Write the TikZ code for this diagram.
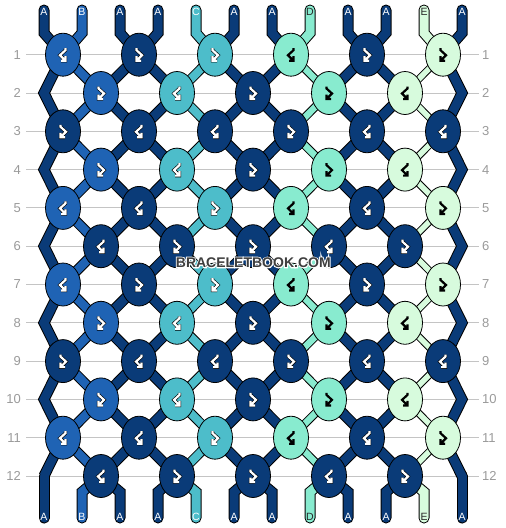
\documentclass[tikz,border=0pt]{standalone}
\usepackage{fontspec}
\setmainfont{Liberation Sans}
\usetikzlibrary{shapes.geometric}
\definecolor{cA}{HTML}{0A3B78}
\definecolor{cB}{HTML}{1F63B4}
\definecolor{cC}{HTML}{4DBDCA}
\definecolor{cD}{HTML}{88EBCF}
\definecolor{cE}{HTML}{D7FBDD}
\definecolor{gridc}{HTML}{C4C4C4}
\definecolor{numc}{HTML}{9A9A9A}
\definecolor{wmc}{HTML}{3E3E3E}
\tikzset{
  knot/.style={ellipse, draw=black, line width=0.8pt, minimum width=35pt, minimum height=43pt, inner sep=0pt},
  strandend/.style={line width=#1pt, line cap=round, line join=miter, miter limit=4},
  zig/.style={line width=#1pt, line cap=butt, line join=miter, miter limit=4},
  rownum/.style={text=numc, font=\fontsize{13}{13}\selectfont, inner sep=0pt},
  endlab/.style={font=\fontsize{10.5}{10.5}\selectfont, inner sep=0pt},
  wm/.style={font=\bfseries\fontsize{14}{14}\selectfont, inner sep=0pt},
}
\newcommand\wmtext{BRACELETBOOK.COM}
\begin{document}
\begin{tikzpicture}[x=1pt,y=-1pt]
\useasboundingbox (0,0) rectangle (506,528);
% grid lines and row numbers
\foreach \r in {1,...,12}{
  \pgfmathsetmacro\yy{54.7+38.3*(\r-1)}
  \coordinate (GL\r) at (26,\yy);
  \coordinate (GR\r) at (479,\yy);
  \draw[gridc, line width=1pt] (GL\r) -- (GR\r);
  \node[rownum, anchor=east] (LN\r) at (21,\yy) {\r};
  \node[rownum, anchor=west] (RN\r) at (482,\yy) {\r};
  \foreach \d in {1,...,11}{
    \coordinate (K-\r-\d) at ({25+38*\d},\yy);
  }
  \coordinate (K-\r-0) at (44,\yy);
  \coordinate (K-\r-12) at (462,\yy);
}
% strand end points
\foreach \p in {1,...,12}{
  \pgfmathsetmacro\xx{44+38*(\p-1)}
  \coordinate (T1-\p) at (\xx,10);
  \coordinate (T2-\p) at (\xx,33);
  \coordinate (B2-\p) at (\xx,492);
  \coordinate (B1-\p) at (\xx,518);
}
% strands: pass 1 = black outlines, pass 2 = colours
\foreach \pass in {1,2}{
  \foreach \p/\col/\wi/\wo in {1/cA/9/11,2/cB/8.5/10.5,3/cA/9/11,4/cA/9/11,5/cC/8/10,6/cA/9/11,7/cA/9/11,8/cD/6.5/8.5,9/cA/9/11,10/cA/9/11,11/cE/5.5/7.5,12/cA/9/11}{
    \pgfmathtruncatemacro\dt{\p-mod(\p+1,2)}
    \pgfmathtruncatemacro\db{\p-mod(\p+12,2)}
    \ifnum\pass=1
      \def\sc{black}\let\zw\wo\def\ew{11}
    \else
      \let\sc\col\let\zw\wi\def\ew{9}
    \fi
    \draw[zig=\zw, draw=\sc] (K-1-\dt)
      \foreach \r [evaluate=\r as \d using {int(\p-mod(\p+\r,2))}] in {2,...,12} { -- (K-\r-\d) };
    \draw[strandend=\ew, draw=\sc] (T1-\p) -- (T2-\p) -- (K-1-\dt);
    \draw[strandend=\ew, draw=\sc] (K-12-\db) -- (B2-\p) -- (B1-\p);
  }
}
% knots
\foreach \rows/\pat in {
  {1,7}/{1/cB/-1/white/black,3/cA/1/white/black,5/cC/1/white/black,7/cD/-1/black/cD,9/cA/1/white/black,11/cE/1/black/cE},
  {2,4,8,10}/{2/cB/1/white/black,4/cC/-1/white/black,6/cA/1/white/black,8/cD/1/black/cD,10/cE/-1/black/cE},
  {3,9}/{1/cA/1/white/black,3/cA/-1/white/black,5/cA/-1/white/black,7/cA/1/white/black,9/cA/-1/white/black,11/cA/-1/white/black},
  {5,11}/{1/cB/-1/white/black,3/cA/-1/white/black,5/cC/1/white/black,7/cD/-1/black/cD,9/cA/-1/white/black,11/cE/1/black/cE},
  {6,12}/{2/cA/-1/white/black,4/cA/1/white/black,6/cA/1/white/black,8/cA/-1/white/black,10/cA/1/white/black}}{
  \foreach \r in \rows {
    \foreach \d/\kc/\s/\gc/\oc in \pat {
      \node[knot, fill=\kc] (N-\r-\d) at (K-\r-\d) {};
      \draw[draw=\gc, line width=2.2pt, line join=miter, line cap=butt,
        preaction={draw=\oc, line width=3.4pt, line join=miter},
        shift={(N-\r-\d.center)}, xscale=\s]
        (-2.5,-6.5) -- (-2.5,-4.5) -- (3,0.5) -- (-2.5,6) (-2.5,1.5) -- (-2.5,6) -- (2,6);
    }
  }
}
% strand labels
\foreach \p/\lab/\lc in {1/A/white,2/B/white,3/A/white,4/A/white,5/C/white,6/A/white,7/A/white,8/D/black!85,9/A/white,10/A/white,11/E/black!85,12/A/white}{
  \pgfmathsetmacro\xx{44+38*(\p-1)}
  \node[endlab, text=\lc] (LT-\p) at (\xx,12.3) {\lab};
  \node[endlab, text=\lc] (LB-\p) at (\xx,516.5) {\lab};
}
% watermark (white outline drawn by text render mode, then filled text)
\node[wm, text=wmc] (WM) at (253.3,262.5)
  {\rlap{\special{pdf:literal direct 1 Tr 2 w 1 1 1 RG}\wmtext\special{pdf:literal direct 0 Tr}}\wmtext};
\end{tikzpicture}
\end{document}
